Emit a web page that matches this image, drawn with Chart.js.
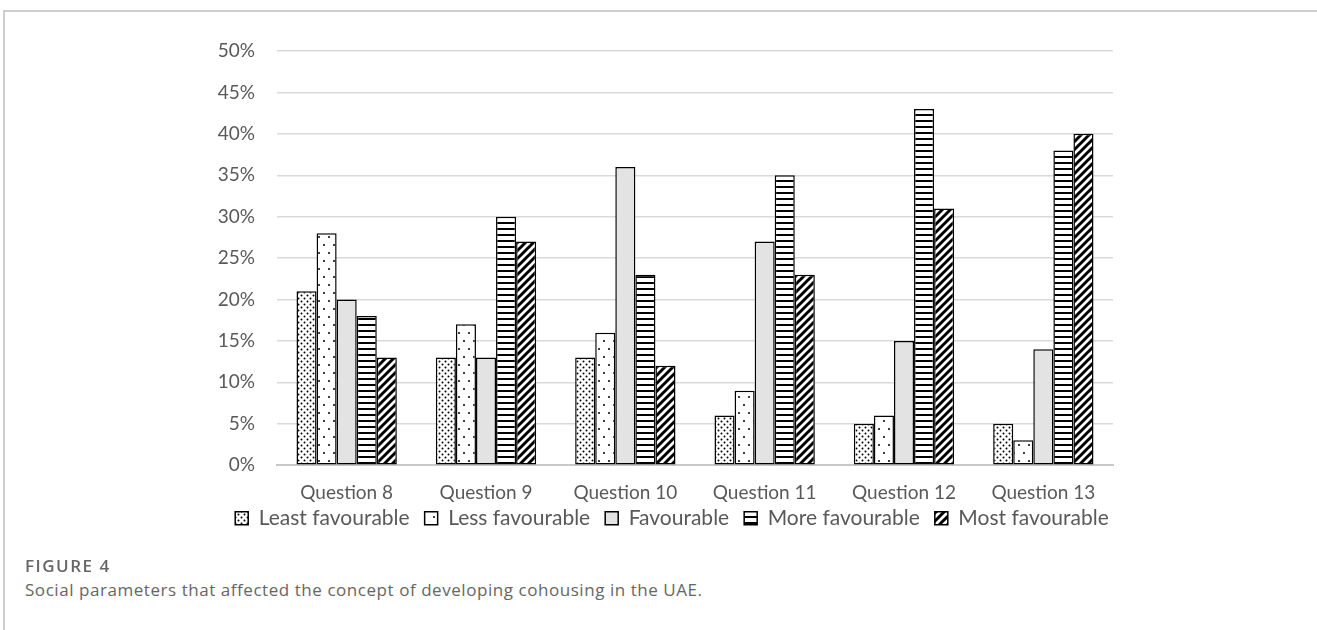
<!DOCTYPE html>
<html>
<head>
<meta charset="utf-8">
<script src="https://cdn.jsdelivr.net/npm/chart.js@4.4.1/dist/chart.umd.min.js"></script>
<style>
  html, body { margin: 0; padding: 0; background: #fff; }
  body { width: 1317px; height: 630px; position: relative; overflow: hidden; }
  .frame { position: absolute; left: 3px; top: 10px; right: 0; bottom: 0;
           border-top: 2px solid #cdcdcd; border-left: 2px solid #cdcdcd; }
  #wrap { position: absolute; left: 0; top: 0; width: 1317px; height: 566px; }
  .cap-title { position: absolute; left: 25px; top: 554px; font-family: "Open Sans", sans-serif;
               font-weight: 600; font-size: 17px; color: #666; letter-spacing: 1.5px; }
  .cap-text { position: absolute; left: 25px; top: 578px; font-family: "Open Sans", sans-serif;
              font-size: 17px; color: #666; letter-spacing: 0.55px; }
</style>
</head>
<body>
<div class="frame"></div>
<div id="wrap"><canvas id="c"></canvas></div>
<div class="cap-title">FIGURE 4</div>
<div class="cap-text">Social parameters that affected the concept of developing cohousing in the UAE.</div>
<script>
// Survey responses per question (share of respondents, %)
const categories = ['Question 8', 'Question 9', 'Question 10', 'Question 11', 'Question 12', 'Question 13'];
const seriesNames = ['Least favourable', 'Less favourable', 'Favourable', 'More favourable', 'Most favourable'];
const leastFavourable = [21, 13, 13, 6, 5, 5];
const lessFavourable  = [28, 17, 16, 9, 6, 3];
const favourable      = [20, 13, 36, 27, 15, 14];
const moreFavourable  = [18, 30, 23, 35, 43, 38];
const mostFavourable  = [13, 27, 12, 23, 31, 40];
const yTickValues = [0, 5, 10, 15, 20, 25, 30, 35, 40, 45, 50];

// Monochrome fill patterns for each response level
function tile(w, h, draw) {
  const c = document.createElement('canvas');
  c.width = w; c.height = h;
  const g = c.getContext('2d');
  g.fillStyle = '#fff';
  g.fillRect(0, 0, w, h);
  g.fillStyle = '#000';
  g.strokeStyle = '#000';
  draw(g);
  return document.getElementById('c').getContext('2d').createPattern(c, 'repeat');
}
const dot = (g, x, y, r) => { g.beginPath(); g.arc(x, y, r, 0, Math.PI * 2); g.fill(); };

const denseDots = tile(6, 6, g => { dot(g, 1.5, 1.5, 1.0); dot(g, 4.5, 4.5, 1.0); });
const sparseDots = tile(10, 16, g => { dot(g, 4, 5, 1.0); dot(g, 9, 13, 1.0); });
const solidGrey = '#e3e3e3';
const hLines = tile(6, 6, g => { g.fillRect(0, 0, 6, 2); });
const diagStripes = tile(8, 8, g => {
  g.lineWidth = 3;
  g.beginPath();
  g.moveTo(-2, 10); g.lineTo(10, -2);
  g.moveTo(-6, 6); g.lineTo(6, -6);
  g.moveTo(2, 14); g.lineTo(14, 2);
  g.stroke();
});

const fills = [denseDots, sparseDots, solidGrey, hLines, diagStripes];
const values = [leastFavourable, lessFavourable, favourable, moreFavourable, mostFavourable];

const datasets = seriesNames.map((name, i) => ({
  label: name,
  data: values[i],
  backgroundColor: fills[i],
  borderColor: '#000',
  borderWidth: 1.5,
  borderSkipped: false
}));

const textColor = '#595959';
const chartFont = 'Lato, "Open Sans", sans-serif';

// Seat the legend row just under the category labels, centred on the plot
const legendNudge = {
  id: 'legendNudge',
  afterLayout(chart) {
    const lg = chart.legend;
    if (!lg) return;
    const top = chart.chartArea.bottom + 27.5;
    lg.top = top;
    lg.bottom = top + lg.height;
    lg.left = 172;
    lg.right = 1172;
    lg.width = lg.right - lg.left;
  }
};

new Chart(document.getElementById('c'), {
  type: 'bar',
  data: { labels: categories, datasets },
  plugins: [legendNudge],
  options: {
    responsive: true,
    maintainAspectRatio: false,
    animation: false,
    layout: { padding: { left: 100, right: 204, top: 51, bottom: 0 } },
    datasets: { bar: { categoryPercentage: 0.72, barPercentage: 1.0 } },
    plugins: {
      tooltip: { enabled: false },
      legend: {
        position: 'bottom',
        labels: {
          color: textColor,
          font: { family: chartFont, size: 21 },
          boxWidth: 13,
          boxHeight: 13,
          padding: 15
        }
      }
    },
    scales: {
      x: {
        grid: { display: false, drawTicks: false },
        border: { color: '#c8c8c8', width: 2 },
        ticks: { color: textColor, font: { family: chartFont, size: 19 }, padding: 16 }
      },
      y: {
        min: 0,
        max: 50,
        afterFit: s => { s.width = 177; },
        afterBuildTicks: s => { s.ticks = yTickValues.map(v => ({ value: v })); },
        grid: { color: '#d9d9d9', lineWidth: 1.5, drawTicks: false },
        border: { display: false },
        ticks: {
          color: textColor,
          font: { family: chartFont, size: 19 },
          padding: 22,
          callback: v => v + '%'
        }
      }
    }
  }
});
</script>
</body>
</html>
